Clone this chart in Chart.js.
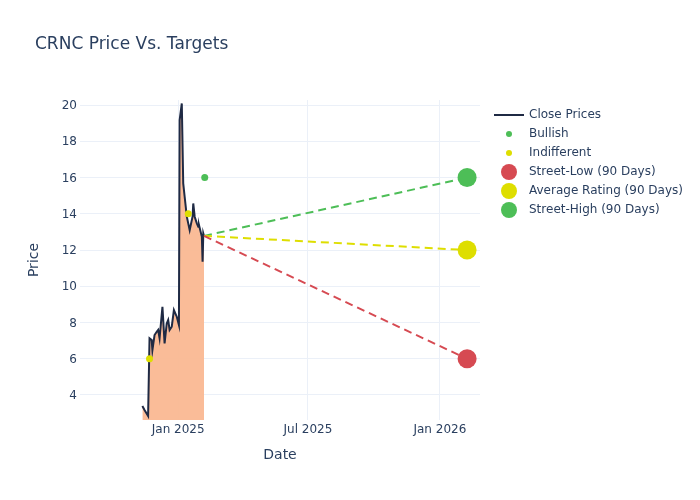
<!DOCTYPE html>
<html>
<head>
<meta charset="utf-8">
<script src="https://cdn.jsdelivr.net/npm/chart.js@4.4.1/dist/chart.umd.min.js"></script>
<style>
  body { margin: 0; background: #fff; }
</style>
</head>
<body>
<canvas id="priceChart" width="700" height="500"></canvas>
<script>
const chartTitle = "CRNC Price Vs. Targets";

const closeDates = [
  "2024-11-12", "2024-11-15", "2024-11-20", "2024-11-22", "2024-11-25", "2024-11-26",
  "2024-11-29", "2024-12-02", "2024-12-04", "2024-12-06", "2024-12-10", "2024-12-13",
  "2024-12-16", "2024-12-18", "2024-12-20", "2024-12-23", "2024-12-26", "2024-12-30",
  "2025-01-02", "2025-01-03", "2025-01-06", "2025-01-08", "2025-01-10", "2025-01-13",
  "2025-01-15", "2025-01-17", "2025-01-21", "2025-01-22", "2025-01-24", "2025-01-27",
  "2025-01-29", "2025-01-30", "2025-02-03", "2025-02-04", "2025-02-05", "2025-02-06"
];
const closePrices = [
  3.39, 3.17, 2.84, 7.13, 7.03, 6.48,
  7.31, 7.49, 7.59, 7.13, 8.87, 6.85,
  7.95, 8.14, 7.59, 7.77, 8.69, 8.32,
  7.86, 19.17, 20.09, 15.68, 14.94, 13.84,
  13.47, 13.10, 13.84, 14.57, 13.84, 13.47,
  13.29, 13.38, 12.73, 11.36, 12.92, 12.78
];

const bullishDates = ["2025-02-07"];
const bullishPrices = [16];
const indifferentDates = ["2024-11-22", "2025-01-15"];
const indifferentPrices = [6, 14];

const targetDate = "2026-02-08";
const targetLabels = ["Street-Low (90 Days)", "Average Rating (90 Days)", "Street-High (90 Days)"];
const targetPrices = [6, 12, 16];
const targetColors = ["#d64a52", "#dede00", "#4dbe57"];

const xTickDates = ["2025-01-01", "2025-07-01", "2026-01-01"];
const yTickValues = [4, 6, 8, 10, 12, 14, 16, 18, 20];
const monthNames = ["Jan", "Feb", "Mar", "Apr", "May", "Jun", "Jul", "Aug", "Sep", "Oct", "Nov", "Dec"];

const textColor = "#2a3f5f";
const gridColor = "#ebf0f8";
Chart.defaults.font.family = "'DejaVu Sans', sans-serif";
Chart.defaults.color = textColor;

const toPoints = (dates, values) => dates.map((d, i) => ({ x: Date.parse(d), y: values[i] }));

const lastClose = { x: Date.parse(closeDates[closeDates.length - 1]), y: closePrices[closePrices.length - 1] };

const datasets = [
  {
    label: "Close Prices",
    type: "line",
    data: toPoints(closeDates, closePrices),
    borderColor: "#1f2a44",
    borderWidth: 2,
    backgroundColor: "rgba(250, 184, 146, 0.95)",
    fill: "start",
    pointRadius: 0,
    tension: 0,
    order: 5,
    legendSymbol: "line"
  },
  {
    label: "Bullish",
    type: "scatter",
    data: toPoints(bullishDates, bullishPrices),
    pointRadius: 3.5,
    pointBackgroundColor: "#4dbe57",
    pointBorderWidth: 0,
    order: 1,
    legendRadius: 3
  },
  {
    label: "Indifferent",
    type: "scatter",
    data: toPoints(indifferentDates, indifferentPrices),
    pointRadius: 3.5,
    pointBackgroundColor: "#dede00",
    pointBorderWidth: 0,
    order: 1,
    legendRadius: 3
  }
];

targetLabels.forEach((label, i) => {
  datasets.push({
    label: label,
    type: "line",
    data: [lastClose, { x: Date.parse(targetDate), y: targetPrices[i] }],
    borderColor: targetColors[i],
    borderWidth: 2,
    borderDash: [8, 5],
    pointRadius: [0, 9.5],
    pointBackgroundColor: targetColors[i],
    pointBorderWidth: 0,
    fill: false,
    order: 3,
    legendRadius: 8
  });
});

// title + legend drawn on the canvas, plotly style
const sideLegend = {
  id: "sideLegend",
  afterDraw(chart) {
    const ctx = chart.ctx;
    ctx.save();
    ctx.textBaseline = "middle";
    ctx.fillStyle = textColor;
    ctx.font = "17px 'DejaVu Sans'";
    ctx.fillText(chartTitle, 35, 45);

    ctx.font = "12px 'DejaVu Sans'";
    chart.data.datasets.forEach((ds, i) => {
      const y = 115 + i * 19;
      if (ds.legendSymbol === "line") {
        ctx.strokeStyle = ds.borderColor;
        ctx.lineWidth = 2;
        ctx.beginPath();
        ctx.moveTo(494, y);
        ctx.lineTo(524, y);
        ctx.stroke();
      } else {
        ctx.fillStyle = ds.pointBackgroundColor;
        ctx.beginPath();
        ctx.arc(509, y, ds.legendRadius, 0, Math.PI * 2);
        ctx.fill();
      }
      ctx.fillStyle = textColor;
      ctx.fillText(ds.label, 529, y);
    });
    ctx.restore();
  }
};

const ctx = document.getElementById("priceChart");

const priceChart = new Chart(ctx, {
  data: { datasets: datasets },
  options: {
    responsive: false,
    animation: false,
    layout: { padding: { top: 100, right: 220, bottom: 0, left: 0 } },
    plugins: {
      legend: { display: false },
      title: { display: false },
      tooltip: { enabled: false }
    },
    scales: {
      x: {
        type: "linear",
        min: Date.parse("2024-08-17"),
        max: Date.parse("2026-02-26"),
        afterBuildTicks: scale => {
          scale.ticks = xTickDates.map(d => ({ value: Date.parse(d) }));
        },
        afterFit: scale => { scale.height = 80; },
        ticks: {
          padding: 3,
          font: { size: 12 },
          color: textColor,
          maxRotation: 0,
          callback: value => {
            const d = new Date(value);
            return monthNames[d.getUTCMonth()] + " " + d.getUTCFullYear();
          }
        },
        grid: { color: gridColor, drawTicks: false },
        border: { display: false },
        title: {
          display: true,
          text: "Date",
          color: textColor,
          font: { size: 14 },
          padding: { top: 0, bottom: 36 }
        }
      },
      y: {
        type: "linear",
        min: 2.62,
        max: 20.28,
        afterBuildTicks: scale => {
          scale.ticks = yTickValues.map(v => ({ value: v }));
        },
        afterFit: scale => { scale.width = 80; },
        ticks: {
          padding: 3,
          labelOffset: 1,
          font: { size: 12 },
          color: textColor
        },
        grid: { color: gridColor, drawTicks: false },
        border: { display: false },
        title: {
          display: true,
          text: "Price",
          color: textColor,
          font: { size: 14 },
          padding: { top: 26, bottom: 0 }
        }
      }
    }
  },
  plugins: [sideLegend]
});
</script>
</body>
</html>
